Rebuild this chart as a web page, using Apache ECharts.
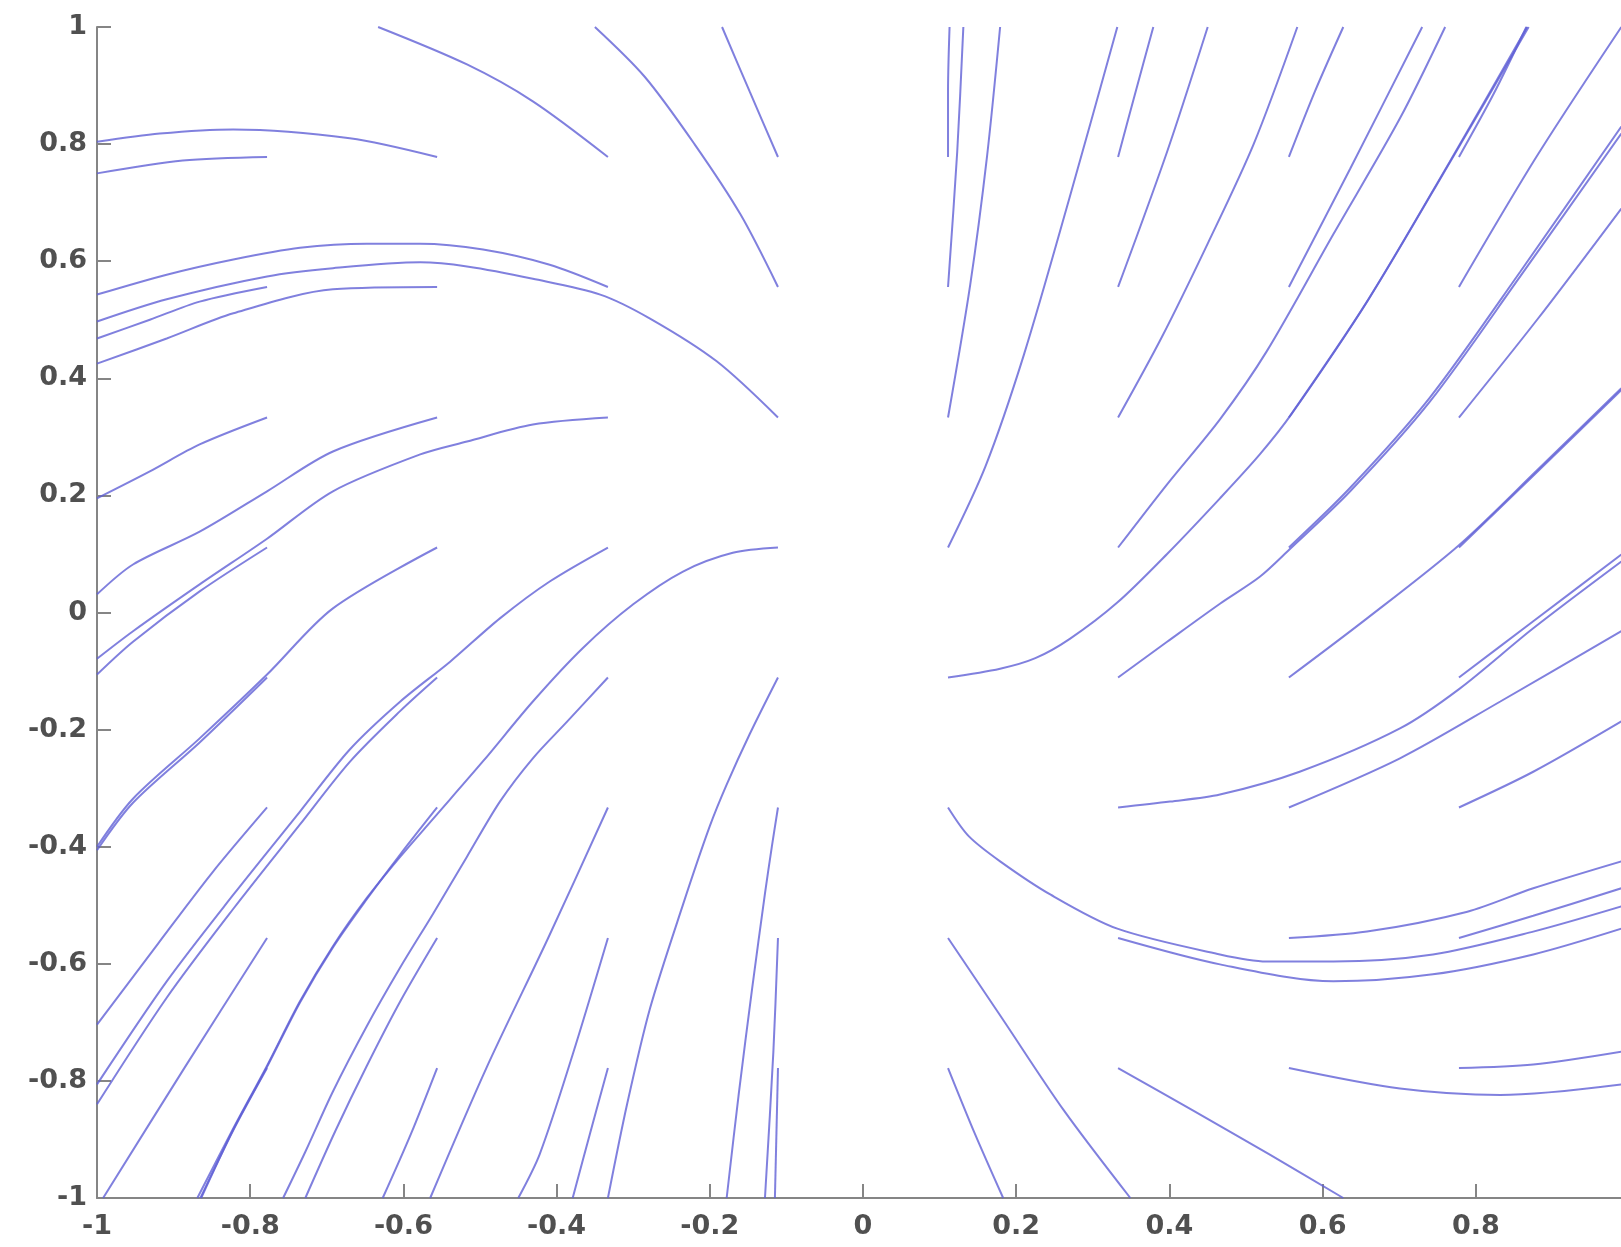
<!DOCTYPE html>
<html>
<head>
<meta charset="utf-8">
<script src="https://cdn.jsdelivr.net/npm/echarts@6/dist/echarts.min.js"></script>
<style>
  html, body { margin: 0; padding: 0; background: #fff; }
  #chart { width: 1621px; height: 1247px; }
</style>
</head>
<body>
<div id="chart"></div>
<script>
// streamlines, each one a list of [x, y] points
const upperLeftLines = [
    [[-0.778, 0.778], [-0.888, 0.772], [-1, 0.75]],
    [[-0.556, 0.778], [-0.670, 0.810], [-0.822, 0.825], [-0.918, 0.818], [-1, 0.804]],
    [[-0.333, 0.778], [-0.431, 0.873], [-0.517, 0.936], [-0.633, 1]],
    [[-0.111, 0.778], [-0.148, 0.89], [-0.184, 1]],
    [[-0.111, 0.556], [-0.160, 0.680], [-0.220, 0.800], [-0.285, 0.915], [-0.350, 1]],
    [[-0.333, 0.556], [-0.409, 0.594], [-0.496, 0.620], [-0.578, 0.630], [-0.648, 0.630], [-0.735, 0.623], [-0.822, 0.603], [-0.909, 0.577], [-1, 0.543]],
    [[-0.111, 0.333], [-0.191, 0.429], [-0.278, 0.502], [-0.343, 0.543], [-0.431, 0.570], [-0.517, 0.591], [-0.578, 0.598], [-0.692, 0.588], [-0.778, 0.574], [-0.909, 0.535], [-1, 0.497]],
    [[-0.778, 0.556], [-0.866, 0.531], [-0.931, 0.500], [-1, 0.468]],
    [[-0.556, 0.556], [-0.692, 0.552], [-0.822, 0.511], [-0.909, 0.468], [-1, 0.425]],
    [[-0.778, 0.333], [-0.866, 0.287], [-0.931, 0.241], [-1, 0.195]],
    [[-0.556, 0.333], [-0.692, 0.275], [-0.778, 0.207], [-0.866, 0.138], [-0.953, 0.082], [-1, 0.031]],
    [[-0.333, 0.333], [-0.431, 0.321], [-0.517, 0.292], [-0.578, 0.270], [-0.692, 0.207], [-0.778, 0.126], [-0.866, 0.048], [-0.953, -0.032], [-1, -0.079]],
    [[-0.111, 0.111], [-0.170, 0.102], [-0.235, 0.070], [-0.300, 0.014], [-0.366, -0.061], [-0.431, -0.152], [-0.496, -0.254], [-0.561, -0.352], [-0.604, -0.417], [-0.648, -0.488], [-0.692, -0.570], [-0.735, -0.664], [-0.778, -0.774], [-0.822, -0.881], [-0.869, -1]]
]

const lowerLeftLines = [
    [[-0.778, 0.111], [-0.866, 0.036], [-0.953, -0.050], [-1, -0.106]],
    [[-0.556, 0.111], [-0.692, 0.007], [-0.778, -0.106], [-0.866, -0.215], [-0.953, -0.318], [-1, -0.400]],
    [[-0.778, -0.111], [-0.866, -0.222], [-0.953, -0.325], [-1, -0.406]],
    [[-0.333, 0.111], [-0.409, 0.053], [-0.474, -0.010], [-0.539, -0.084], [-0.604, -0.152], [-0.670, -0.234], [-0.735, -0.340], [-0.822, -0.482], [-0.909, -0.630], [-1, -0.806]],
    [[-0.556, -0.111], [-0.604, -0.168], [-0.670, -0.255], [-0.735, -0.362], [-0.822, -0.506], [-0.909, -0.658], [-1, -0.840]],
    [[-0.778, -0.333], [-0.85, -0.445], [-0.92, -0.565], [-1, -0.704]],
    [[-0.778, -0.556], [-0.885, -0.776], [-0.992, -1]],
    [[-0.333, -0.111], [-0.386, -0.186], [-0.431, -0.249], [-0.474, -0.323], [-0.517, -0.417], [-0.561, -0.514], [-0.604, -0.606], [-0.648, -0.707], [-0.692, -0.818], [-0.728, -0.921], [-0.757, -1]],
    [[-0.556, -0.333], [-0.604, -0.413], [-0.648, -0.490], [-0.692, -0.572], [-0.735, -0.666], [-0.778, -0.776], [-0.822, -0.883], [-0.864, -1]],
    [[-0.778, -0.778], [-0.822, -0.884], [-0.865, -1]],
    [[-0.556, -0.556], [-0.604, -0.664], [-0.648, -0.775], [-0.689, -0.886], [-0.728, -1]],
    [[-0.556, -0.778], [-0.590, -0.890], [-0.627, -1]],
    [[-0.333, -0.333], [-0.411, -0.556], [-0.492, -0.779], [-0.565, -1]],
    [[-0.333, -0.556], [-0.379, -0.755], [-0.422, -0.925], [-0.450, -1]],
    [[-0.333, -0.778], [-0.356, -0.888], [-0.379, -1]],
    [[-0.111, -0.111], [-0.148, -0.208], [-0.178, -0.294], [-0.200, -0.365], [-0.235, -0.499], [-0.278, -0.676], [-0.308, -0.840], [-0.333, -1]],
    [[-0.111, -0.333], [-0.119, -0.400], [-0.128, -0.480], [-0.145, -0.645], [-0.162, -0.820], [-0.178, -1]],
    [[-0.111, -0.556], [-0.117, -0.750], [-0.128, -1]],
    [[-0.111, -0.778], [-0.115, -1]]
]

const upperRightLines = [
    [[0.111, 0.778], [0.111, 0.89], [0.113, 1]],
    [[0.111, 0.556], [0.123, 0.787], [0.131, 1]],
    [[0.111, 0.333], [0.140, 0.560], [0.162, 0.780], [0.179, 1]],
    [[0.111, 0.111], [0.160, 0.250], [0.210, 0.440], [0.270, 0.710], [0.332, 1]],
    [[0.333, 0.778], [0.356, 0.89], [0.379, 1]],
    [[0.333, 0.556], [0.397, 0.787], [0.450, 1]],
    [[0.333, 0.333], [0.390, 0.470], [0.450, 0.630], [0.510, 0.800], [0.567, 1]],
    [[0.556, 0.778], [0.590, 0.89], [0.627, 1]],
    [[0.556, 0.556], [0.636, 0.758], [0.730, 1]],
    [[0.333, 0.111], [0.397, 0.219], [0.466, 0.330], [0.527, 0.446], [0.614, 0.646], [0.701, 0.844], [0.760, 1]],
    [[0.556, 0.333], [0.658, 0.531], [0.766, 0.770], [0.867, 1]],
    [[0.111, -0.111], [0.179, -0.096], [0.225, -0.078], [0.270, -0.045], [0.332, 0.017], [0.397, 0.100], [0.466, 0.195], [0.518, 0.270], [0.560, 0.340], [0.660, 0.535], [0.768, 0.773], [0.869, 1]],
    [[0.778, 0.778], [0.823, 0.885], [0.866, 1]],
    [[0.778, 0.556], [0.880, 0.780], [0.99, 1]],
    [[0.778, 0.333], [0.880, 0.500], [0.99, 0.690]],
    [[0.333, -0.111], [0.397, -0.050], [0.466, 0.015], [0.518, 0.061], [0.557, 0.108], [0.636, 0.207], [0.740, 0.360], [0.858, 0.574], [0.99, 0.818]],
    [[0.556, 0.111], [0.636, 0.213], [0.740, 0.367], [0.858, 0.582], [0.99, 0.830]],
    [[0.778, 0.111], [0.880, 0.240], [0.99, 0.380]],
    [[0.556, -0.111], [0.658, -0.010], [0.778, 0.115], [0.880, 0.243], [0.99, 0.383]],
    [[0.778, -0.111], [0.875, -0.015], [0.99, 0.099]]
]

const lowerRightLines = [
    [[0.333, -0.333], [0.401, -0.323], [0.466, -0.311], [0.570, -0.272], [0.701, -0.198], [0.779, -0.130], [0.875, -0.027], [0.99, 0.087]],
    [[0.556, -0.333], [0.701, -0.249], [0.832, -0.152], [0.99, -0.032]],
    [[0.778, -0.333], [0.875, -0.272], [0.99, -0.186]],
    [[0.111, -0.333], [0.138, -0.382], [0.179, -0.425], [0.245, -0.482], [0.332, -0.540], [0.466, -0.584], [0.527, -0.596], [0.614, -0.596], [0.744, -0.584], [0.875, -0.545], [0.99, -0.502]],
    [[0.333, -0.556], [0.466, -0.601], [0.614, -0.630], [0.744, -0.618], [0.875, -0.584], [0.99, -0.540]],
    [[0.556, -0.556], [0.658, -0.545], [0.789, -0.511], [0.875, -0.471], [0.99, -0.425]],
    [[0.778, -0.556], [0.875, -0.518], [0.99, -0.471]],
    [[0.556, -0.778], [0.701, -0.813], [0.832, -0.824], [0.99, -0.806]],
    [[0.778, -0.778], [0.875, -0.772], [0.99, -0.750]],
    [[0.333, -0.778], [0.430, -0.850], [0.530, -0.925], [0.627, -1]],
    [[0.111, -0.556], [0.180, -0.690], [0.262, -0.850], [0.349, -1]],
    [[0.111, -0.778], [0.146, -0.890], [0.183, -1]]
]

const lineColor = 'rgba(96, 96, 214, 0.8)'
const axisColor = '#858585'
const labelColor = '#505050'

const chart = echarts.init(document.getElementById('chart'))

const allLines = [...upperLeftLines, ...lowerLeftLines, ...upperRightLines, ...lowerRightLines]

const axisCommon = {
    type: 'value',
    min: -1,
    max: 1,
    interval: 0.2,
    splitLine: { show: false },
    axisLine: {
        onZero: false,
        lineStyle: { color: axisColor, width: 2 }
    },
    axisTick: {
        inside: true,
        length: 14,
        lineStyle: { color: axisColor, width: 2 }
    }
}

const labelFont = {
    color: labelColor,
    fontSize: 27,
    fontWeight: 'bold',
    fontFamily: 'DejaVu Sans'
}

const option = {
    animation: false,
    backgroundColor: '#fff',
    grid: {
        left: 97,
        top: 27,
        width: 1532,
        height: 1171,
        outerBoundsMode: 'none'
    },
    xAxis: Object.assign({}, axisCommon, {
        axisLabel: Object.assign({ margin: 15 }, labelFont)
    }),
    yAxis: Object.assign({}, axisCommon, {
        axisLabel: Object.assign({ margin: 10 }, labelFont)
    }),
    series: allLines.map(pts => ({
        type: 'line',
        data: pts,
        showSymbol: false,
        smooth: 0.3,
        silent: true,
        lineStyle: { color: lineColor, width: 2 }
    }))
}

chart.setOption(option)
</script>
</body>
</html>
